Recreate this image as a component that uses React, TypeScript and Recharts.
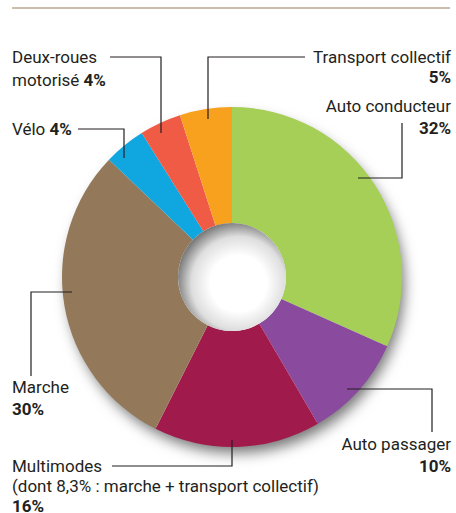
import React from 'react';
import { PieChart, Pie, Cell } from 'recharts';

const modes = ['Auto conducteur', 'Auto passager', 'Multimodes', 'Marche', 'Vélo', 'Deux-roues motorisé', 'Transport collectif'];
const shares = [32, 10, 16, 30, 4, 4, 5];
const colors = ['#a5cf56', '#8a4a9d', '#a01b4b', '#93795a', '#10a6df', '#ef5b45', '#f7a11e'];

const W = 456;
const H = 513;
const CX = 232;
const CY = 277;
const FONT = 'Roboto, "Liberation Sans", sans-serif';
const INK = '#231f20';

const data = modes.map((name, i) => ({ name, value: shares[i] }));

const pct = (i: number) => `${shares[i]}%`;

// leader lines (label -> slice)
const leaders = [
  '305,57 208,57 208,119',
  '110,57 161,57 161,133',
  '78,129 124,129 124,158',
  '402,123 402,178 358,178',
  '347,389 432,389 432,432',
  '112,466 232,466 232,440',
  '72,292 31,292 31,376',
];

const Labels = () => (
  <svg width={W} height={H} style={{ position: 'absolute', left: 0, top: 0, pointerEvents: 'none' }}>
    <line x1={12} y1={8} x2={450} y2={8} stroke="#b8a78c" strokeWidth={1.5} />
    {leaders.map((p, i) => (
      <polyline key={i} points={p} fill="none" stroke={INK} strokeWidth={1.2} />
    ))}
    <g fontFamily={FONT} fontSize={17} fill={INK}>
      <text x={451} y={63} textAnchor="end">{modes[6]}</text>
      <text x={451} y={83} textAnchor="end" fontWeight="bold">{pct(6)}</text>
      <text x={451} y={112} textAnchor="end">{modes[0]}</text>
      <text x={451} y={134} textAnchor="end" fontWeight="bold">{pct(0)}</text>
      <text x={12} y={63}>Deux-roues</text>
      <text x={12} y={86}>motorisé <tspan fontWeight="bold">{pct(5)}</tspan></text>
      <text x={12} y={135}>{modes[4]} <tspan fontWeight="bold">{pct(4)}</tspan></text>
      <text x={12} y={393}>{modes[3]}</text>
      <text x={12} y={415} fontWeight="bold">{pct(3)}</text>
      <text x={451} y={450} textAnchor="end">{modes[1]}</text>
      <text x={451} y={472} textAnchor="end" fontWeight="bold">{pct(1)}</text>
      <text x={12} y={472}>{modes[2]}</text>
      <text x={12} y={492}>(dont 8,3% : marche + transport collectif)</text>
      <text x={12} y={512} fontWeight="bold">{pct(2)}</text>
    </g>
  </svg>
);

export default function App() {
  return (
    <div style={{ position: 'absolute', left: 0, top: 0, width: W, height: H, background: '#fff' }}>
      <PieChart width={W} height={H} margin={{ top: 0, right: 0, bottom: 0, left: 0 }}>
        <defs>
          <filter id="shadow" x="-20%" y="-20%" width="140%" height="140%">
            <feDropShadow dx="4" dy="8" stdDeviation="7" floodColor="#000" floodOpacity="0.55" />
          </filter>
          <radialGradient id="hole" cx="56%" cy="56%" r="58%">
            <stop offset="45%" stopColor="#ffffff" />
            <stop offset="75%" stopColor="#dedede" />
            <stop offset="100%" stopColor="#767676" />
          </radialGradient>
        </defs>
        <Pie
          data={[{ value: 1 }]}
          dataKey="value"
          cx={CX}
          cy={CY}
          innerRadius={0}
          outerRadius={168}
          stroke="none"
          isAnimationActive={false}
        >
          <Cell fill="#fff" filter="url(#shadow)" />
        </Pie>
        <Pie
          data={data}
          dataKey="value"
          nameKey="name"
          cx={CX}
          cy={CY}
          innerRadius={54}
          outerRadius={170}
          startAngle={90}
          endAngle={-270}
          stroke="none"
          isAnimationActive={false}
        >
          {data.map((d, i) => (
            <Cell key={d.name} fill={colors[i]} />
          ))}
        </Pie>
        <Pie
          data={[{ value: 1 }]}
          dataKey="value"
          cx={CX}
          cy={CY}
          innerRadius={0}
          outerRadius={54}
          stroke="none"
          isAnimationActive={false}
        >
          <Cell fill="url(#hole)" />
        </Pie>
      </PieChart>
      <Labels />
    </div>
  );
}
